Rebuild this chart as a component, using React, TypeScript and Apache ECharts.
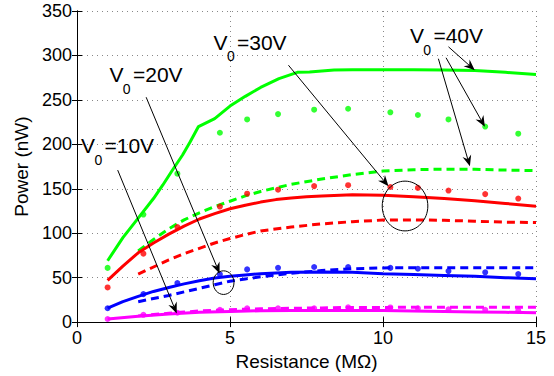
import React, { useEffect, useRef } from 'react';
import * as echarts from 'echarts';

// ---- data ----
const xTicks = [0, 5, 10, 15];
const yTicks = [0, 50, 100, 150, 200, 250, 300, 350];

// measured points (dots)
const dotX = [1, 2.17, 3.28, 4.67, 5.56, 6.57, 7.75, 8.86, 10.24, 11.14, 12.14, 13.34, 14.42];
const dots10 = [3.5, 8.2, 10.5, 13.8, 15.6, 15.6, 15.6, 16.7, 16.5, 15.6, 14.4, 13.8, 13];
const dots20 = [15.6, 31.5, 44, 53.8, 59.3, 61.1, 62, 62, 61, 60, 57.4, 56, 54];
const dots30 = [39, 77, 107, 130, 144.5, 149, 153, 154, 152, 151, 148, 144, 139];
const dots40 = [61, 121, 167, 213, 228, 234, 239, 240, 236, 233, 228, 220, 212];

// solid model curves
const solid10X = [1, 2, 3, 4, 5, 6, 7, 8, 9, 10, 11, 12, 13, 14, 15];
const solid10Y = [3.5, 6.5, 9, 11, 12, 12.8, 13, 13, 13, 13, 12.5, 12, 11.5, 11, 10.5];
const solid20X = [1, 1.5, 2, 2.5, 3, 3.5, 4, 4.5, 5, 5.5, 6, 7, 8, 9, 10, 11, 12, 13, 14, 15];
const solid20Y = [15.6, 23, 29, 34.5, 39, 43, 46.5, 49.5, 51.5, 53, 54.5, 56, 56.5, 56, 54.5, 53.5, 52.5, 51.5, 50, 48.9];
const solid30X = [1, 1.5, 2, 2.5, 3, 3.5, 4, 4.5, 5, 5.5, 6, 6.5, 7, 7.5, 8, 9, 10, 11, 12, 13, 14, 15];
const solid30Y = [47, 63, 78, 89, 99, 108, 116, 122, 127.5, 131.5, 135, 137.8, 139.5, 141, 142, 143.3, 142.7, 141, 139, 136.5, 133.5, 130.4];
const solid40X = [1, 1.5, 2, 2.5, 2.8, 3.1, 3.45, 3.7, 3.97, 4.5, 5, 5.5, 6, 6.6, 7.2, 7.6, 8.4, 9, 10, 11, 12, 13, 14, 15];
const solid40Y = [69, 95, 117, 139, 154, 170, 188, 203, 220, 229, 243, 254, 264, 274, 281, 281.5, 283.5, 284, 284, 284, 283.5, 283, 281, 278.5];

// dashed model curves
const dashX = [2, 2.5, 3, 3.5, 4, 4.5, 5, 5.5, 6, 7, 8, 9, 10, 11, 12, 13, 14, 15];
const dashed10Y = [7, 8.5, 10, 11.3, 12.5, 13.3, 14, 14.5, 15, 15.5, 16, 16.5, 16.5, 16.7, 16.7, 16.7, 16.7, 16.7];
const dashed20Y = [23, 26.5, 30, 34, 38, 42, 46, 48.5, 51, 55, 58, 60, 61, 61.2, 61.2, 61.2, 61.2, 61.1];
const dashed30Y = [54, 62, 70, 77, 83, 89, 94, 98.5, 102.5, 107, 110.5, 113, 114.8, 115, 114.5, 113.5, 112.5, 112];
const dashed40Y = [80, 93, 105, 115, 123, 130, 136, 142, 147, 155, 161, 166, 170, 171.5, 172, 172, 171, 170.5];

// annotations (data coordinates)
const labelTexts = ['10V', '20V', '30V', '40V'];
const labelAnchors = [[0.13, 190], [1.06, 269.7], [4.46, 306.7], [10.88, 314]];
const arrows = [
  [[1.33, 171], [3.26, 9.7]],
  [[2.26, 253], [4.66, 54.8]],
  [[6.91, 289], [10.18, 152.8]],
  [[12.14, 309.7], [13.0, 283.3]],
  [[12.06, 297.4], [13.33, 219.7]],
  [[11.81, 296.3], [12.84, 175.2]],
];
const ellipses = [
  [4.79, 44.4, 0.34, 13.3],
  [10.72, 130.6, 0.745, 28],
];

const GREEN = '#00ff00';
const RED = '#ff0000';
const BLUE = '#0000ff';
const MAGENTA = '#ff00ff';
const FONT = '"Liberation Sans", Arial, Helvetica, sans-serif';

const pairs = (xs: number[], ys: number[]) => xs.map((x, i) => [x, ys[i]]);

function lineSeries(data: number[][], color: string, dashed: boolean) {
  return {
    type: 'line',
    data,
    symbol: 'none',
    smooth: false,
    lineStyle: { color, width: 3, type: dashed ? [8, 5] : 'solid' },
    z: 3,
  };
}
function dotSeries(data: number[][], color: string) {
  return {
    type: 'scatter',
    data,
    symbol: 'circle',
    symbolSize: 6,
    itemStyle: { color },
    z: 4,
  };
}

export default function App() {
  const ref = useRef<HTMLDivElement>(null);
  useEffect(() => {
    const chart = echarts.init(ref.current!, null, { renderer: 'svg' });
    const axisCommon = {
      type: 'value',
      axisLine: { show: true, lineStyle: { color: '#000', width: 1 } },
      axisTick: { show: true, inside: true, length: 5, lineStyle: { color: '#000' } },
    };
    chart.setOption({
      animation: false,
      backgroundColor: '#fff',
      grid: { left: 77, right: 18, top: 11, bottom: 50, show: false },
      xAxis: [
        {
          ...axisCommon,
          min: 0,
          max: 15,
          interval: 5,
          position: 'bottom',
          axisLabel: {
            color: '#000',
            fontSize: 18,
            fontFamily: FONT,
            margin: 7,
            formatter: (v: number) => (xTicks.includes(v) ? String(v) : ''),
          },
          splitLine: { show: true, lineStyle: { color: '#888', type: [1, 4], width: 1 } },
          name: 'Resistance (MΩ)',
          nameLocation: 'middle',
          nameGap: 26,
          nameTextStyle: { color: '#000', fontSize: 19, fontFamily: FONT },
        },
        {
          ...axisCommon,
          min: 0,
          max: 15,
          interval: 5,
          position: 'top',
          axisLabel: { show: false },
          splitLine: { show: false },
        },
      ],
      yAxis: [
        {
          ...axisCommon,
          min: 0,
          max: 350,
          interval: 50,
          position: 'left',
          axisLabel: {
            color: '#000',
            fontSize: 18,
            fontFamily: FONT,
            margin: 5,
            formatter: (v: number) => (yTicks.includes(v) ? String(v) : ''),
          },
          splitLine: { show: true, lineStyle: { color: '#888', type: [1, 4], width: 1 } },
          name: 'Power (nW)',
          nameLocation: 'middle',
          nameGap: 38,
          nameTextStyle: { color: '#000', fontSize: 19, fontFamily: FONT },
        },
        {
          ...axisCommon,
          min: 0,
          max: 350,
          interval: 50,
          position: 'right',
          axisLabel: { show: false },
          splitLine: { show: false },
        },
      ],
      series: [
        lineSeries(pairs(solid40X, solid40Y), GREEN, false),
        lineSeries(pairs(dashX, dashed40Y), GREEN, true),
        lineSeries(pairs(solid30X, solid30Y), RED, false),
        lineSeries(pairs(dashX, dashed30Y), RED, true),
        lineSeries(pairs(solid20X, solid20Y), BLUE, false),
        lineSeries(pairs(dashX, dashed20Y), BLUE, true),
        lineSeries(pairs(solid10X, solid10Y), MAGENTA, false),
        lineSeries(pairs(dashX, dashed10Y), MAGENTA, true),
        dotSeries(pairs(dotX, dots40), GREEN),
        dotSeries(pairs(dotX, dots30), RED),
        dotSeries(pairs(dotX, dots20), BLUE),
        dotSeries(pairs(dotX, dots10), MAGENTA),
      ],
    });

    const px = (p: number[]) =>
      chart.convertToPixel({ xAxisIndex: 0, yAxisIndex: 0 }, p) as number[];

    const elements: any[] = [];
    const addArrow = (a: number[][]) => {
      const [x1, y1] = px(a[0]);
      const [x2, y2] = px(a[1]);
      const dx = x2 - x1;
      const dy = y2 - y1;
      const len = Math.hypot(dx, dy) || 1;
      const ux = dx / len;
      const uy = dy / len;
      const nx = -uy;
      const ny = ux;
      const L = 11;
      const W = 4.5;
      const notch = 3.5;
      const bx = x2 - L * ux;
      const by = y2 - L * uy;
      const mx = x2 - (L - notch) * ux;
      const my = y2 - (L - notch) * uy;
      elements.push({
        type: 'line',
        shape: { x1, y1, x2: mx, y2: my },
        style: { stroke: '#000', lineWidth: 1 },
        z: 10,
      });
      elements.push({
        type: 'polygon',
        shape: {
          points: [
            [x2, y2],
            [bx + W * nx, by + W * ny],
            [mx, my],
            [bx - W * nx, by - W * ny],
          ],
        },
        style: { fill: '#000' },
        z: 10,
      });
    };
    arrows.forEach(addArrow);

    ellipses.forEach((e) => {
      const [cx, cy] = px([e[0], e[1]]);
      const [ex] = px([e[0] + e[2], e[1]]);
      const [, ey] = px([e[0], e[1] + e[3]]);
      elements.push({
        type: 'ellipse',
        shape: { cx, cy, rx: Math.abs(ex - cx), ry: Math.abs(cy - ey) },
        style: { fill: 'none', stroke: '#000', lineWidth: 1 },
        z: 10,
      });
    });

    labelAnchors.forEach((a, i) => {
      const [x, y] = px(a);
      elements.push({
        type: 'text',
        x,
        y: y - 7.4,
        style: { text: 'V', fontSize: 21, fontFamily: FONT, fill: '#000', align: 'left', verticalAlign: 'middle' },
        z: 11,
      });
      elements.push({
        type: 'text',
        x: x + 13.4,
        y: y + 11.5 - 4.9,
        style: { text: '0', fontSize: 14, fontFamily: FONT, fill: '#000', align: 'left', verticalAlign: 'middle' },
        z: 11,
      });
      elements.push({
        type: 'text',
        x: x + 23.5,
        y: y - 7.4,
        style: { text: '=' + labelTexts[i], fontSize: 21, fontFamily: FONT, fill: '#000', align: 'left', verticalAlign: 'middle' },
        z: 11,
      });
    });

    chart.setOption({ graphic: elements });
    return () => chart.dispose();
  }, []);
  return (
    <div
      ref={ref}
      style={{ position: 'fixed', left: 0, top: 0, width: 554, height: 376, background: '#fff' }}
    />
  );
}
